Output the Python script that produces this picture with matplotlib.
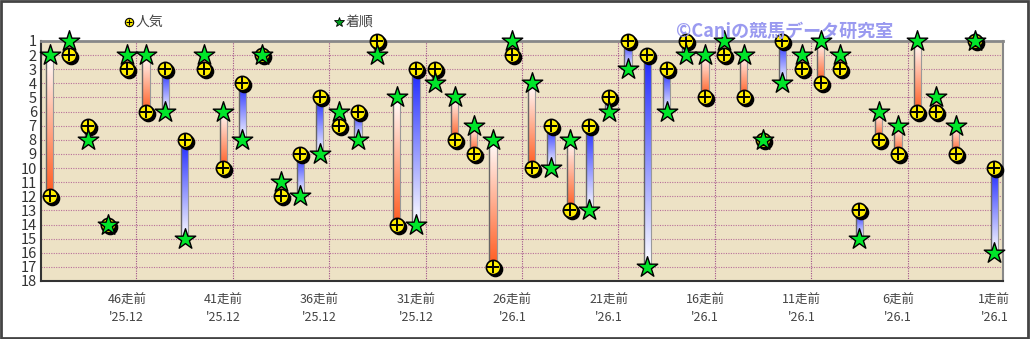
import numpy as np
import matplotlib
matplotlib.use("Agg")
import matplotlib.pyplot as plt
from matplotlib.colors import LinearSegmentedColormap
import matplotlib.transforms as mtransforms

plt.rcParams['font.family'] = ['Noto Sans CJK JP', 'DejaVu Sans']

# 50走前 -> 1走前
race_labels = [f"{n}走前" for n in range(50, 0, -1)]
race_dates = ["'25.12"] * 24 + ["'26.1"] * 26
popularity = [12, 2, 7, 14, 3, 6, 3, 8, 3, 10,
              4, 2, 12, 9, 5, 7, 6, 1, 14, 3,
              3, 8, 9, 17, 2, 10, 7, 13, 7, 5,
              1, 2, 3, 1, 5, 2, 5, 8, 1, 3,
              4, 3, 13, 8, 9, 6, 6, 9, 1, 10]
finish = [2, 1, 8, 14, 2, 2, 6, 15, 2, 6,
          8, 2, 11, 12, 9, 6, 8, 2, 5, 14,
          4, 5, 7, 8, 1, 4, 10, 8, 13, 6,
          3, 17, 6, 2, 2, 1, 2, 8, 4, 2,
          1, 2, 15, 6, 7, 1, 5, 7, 1, 16]

x = np.arange(len(popularity))

fig = plt.figure(figsize=(10.3, 3.39), dpi=100)
fig.patch.set_facecolor('white')
ax = fig.add_axes([41 / 1030, 58 / 339, 962 / 1030, 240 / 339])
ax.set_facecolor('#ede2c5')

# grid
for r in range(1, 19):
    ax.axhline(r, color='#b8709a', lw=0.8, ls=(0, (1, 1.2)), zorder=1)
for gx in np.arange(4.5, 49, 5):
    ax.axvline(gx, color='#a0508a', lw=0.8, ls=(0, (1, 1.2)), zorder=1)

red_cmap = LinearSegmentedColormap.from_list('r', ['#ffffff', '#ff5a1e'])
blue_cmap = LinearSegmentedColormap.from_list('b', ['#ffffff', '#1e28ff'])
grad = np.linspace(0, 1, 100).reshape(-1, 1)

hw = 0.19
for xi, p, f in zip(x, popularity, finish):
    if p == f:
        continue
    cmap = red_cmap if f < p else blue_cmap
    top, bot = min(p, f), max(p, f)
    # colour strongest at the popularity end
    g = grad if p > f else grad[::-1]
    ax.imshow(g, cmap=cmap, extent=[xi - hw, xi + hw, bot, top], origin='upper',
              aspect='auto', zorder=2, interpolation='bilinear')
    ax.plot([xi - hw, xi - hw], [top, bot], color='#666666', lw=1.0, zorder=2.5)
    ax.plot([xi + hw, xi + hw], [top, bot], color='#999999', lw=0.8, zorder=2.5)

shadow = mtransforms.offset_copy(ax.transData, fig=fig, x=2, y=-2, units='dots')
ax.scatter(x, popularity, s=105, color='black', zorder=3, transform=shadow, clip_on=False)
ax.scatter(x, popularity, s=105, color='#ffee00', edgecolors='black', linewidths=1.2,
           zorder=4, clip_on=False)
ax.scatter(x, popularity, s=65, marker='+', color='black', linewidths=1.4, zorder=5, clip_on=False)
ax.scatter(x, finish, s=240, marker='*', color='#00e62a', edgecolors='black', linewidths=1.0,
           zorder=6, clip_on=False)

ax.set_xlim(-0.45, 49.45)
ax.set_ylim(18, 1)
ax.set_yticks(range(1, 19))
ax.set_yticklabels([str(r) for r in range(1, 19)], fontsize=10.5, color='#333333')
tick_idx = list(range(4, 50, 5))
ax.set_xticks(tick_idx)
ax.set_xticklabels([f"{race_labels[i]}\n{race_dates[i]}" for i in tick_idx],
                   fontsize=9, color='#444444', linespacing=1.45)
ax.tick_params(axis='both', length=0, pad=3)
ax.tick_params(axis='x', pad=9)

for s in ['top', 'right']:
    ax.spines[s].set_color('#888888')
ax.spines['top'].set_linewidth(2)
ax.spines['right'].set_linewidth(1.5)
ax.spines['left'].set_color('#333333')
ax.spines['bottom'].set_color('#333333')
ax.spines['left'].set_linewidth(1.5)
ax.spines['bottom'].set_linewidth(1.5)

# legend
fig.add_artist(plt.Line2D([129 / 1030], [1 - 22 / 339], marker='o', markersize=6,
                          color='#ffee00', markeredgecolor='black', markeredgewidth=0.8,
                          transform=fig.transFigure))
fig.add_artist(plt.Line2D([129 / 1030], [1 - 22 / 339], marker='+', markersize=4,
                          color='black', markeredgewidth=0.8, transform=fig.transFigure))
fig.text(136 / 1030, 1 - 22 / 339, "人気", fontsize=10, color='#444444', va='center')
fig.add_artist(plt.Line2D([339 / 1030], [1 - 22 / 339], marker='*', markersize=7,
                          color='#00a020', markeredgecolor='black', markeredgewidth=0.6,
                          transform=fig.transFigure))
fig.text(346 / 1030, 1 - 22 / 339, "着順", fontsize=10, color='#444444', va='center')

fig.text(676 / 1030, 1 - 31 / 339, "©Caniの競馬データ研究室", fontsize=13, fontweight='bold',
         color='#9a9af0', va='center')

# outer frame
fig.add_artist(plt.Rectangle((0.001, 0.002), 0.997, 0.995, fill=False, edgecolor='#444444',
                             lw=2, transform=fig.transFigure))

fig.savefig('out.png', dpi=100)
